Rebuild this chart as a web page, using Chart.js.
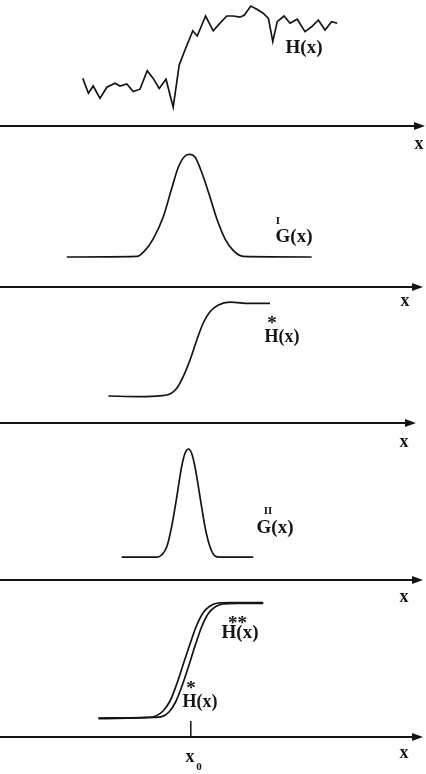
<!DOCTYPE html>
<html>
<head>
<meta charset="utf-8">
<script src="https://cdn.jsdelivr.net/npm/chart.js@4.4.0/dist/chart.umd.min.js"></script>
<style>
  body { margin: 0; background: #fff; }
  #figura { position: relative; width: 426px; height: 774px; overflow: hidden; }
  .panel { position: absolute; left: 0; width: 426px; }
</style>
</head>
<body>
<div id="figura"></div>
<script>
// Datos (x = posición, y = altura sobre el eje)
const h1X = [20.7, 22.1, 23.3, 25, 26.7, 28.75, 30, 31.7, 33.3, 35, 36.8, 38.3, 39.8, 41.5, 43.3, 44.8, 46.25, 48.2, 49.3, 51.4, 53.3, 55, 56.7, 58.3, 60, 61.1, 62.7, 64.2, 65.8, 67.1, 68.2, 69.3, 71, 72.5, 74.3, 76.25, 77.9, 79.6, 81.25, 82.9, 84.3];
const h1Y = [11.9, 8.2, 10, 6.9, 9.7, 10.7, 10, 10.5, 8.6, 9.2, 13.8, 11.9, 9.4, 11.7, 4.7, 15.25, 19, 23.8, 22.5, 27.5, 23.8, 25.7, 27.5, 27.5, 27.2, 27.75, 30, 29.2, 28.2, 26.9, 21.1, 26.1, 27.5, 25.7, 26.7, 23.6, 24.8, 26.5, 24, 26.1, 25.7];

const g1X = [16.7, 34.2, 36.25, 38.3, 40.8, 42.9, 44.6, 46.25, 47.3, 48.75, 50.4, 52.1, 54.2, 56.25, 58.3, 60.8, 77.9];
const g1Y = [7.5, 7.65, 9.15, 12.05, 17.5, 24.55, 30, 32.75, 33.15, 32.5, 28.75, 23.75, 17.05, 12.05, 9.15, 7.65, 7.5];

const hsX = [27.1, 35, 40, 42.5, 44.2, 45.8, 47.5, 49.2, 50.8, 52.5, 54.6, 57.5, 62.5, 67.5];
const hsY = [6.75, 6.6, 6.8, 7.25, 8.7, 11.6, 15.75, 20.75, 25, 27.8, 29.5, 30.2, 29.9, 29.9];

const g2X = [30.4, 39.2, 40.4, 41.7, 42.9, 44.2, 45.4, 46.25, 47.1, 47.9, 48.75, 50, 51.25, 52.5, 53.75, 55, 63.3];
const g2Y = [5.7, 5.7, 6.25, 8.3, 13.3, 20.8, 28.3, 31.7, 32.75, 31.7, 28.3, 20.8, 13.3, 8.3, 6, 5.7, 5.7];

const hssX = [24.6, 37, 39, 40.75, 42.5, 44.1, 45.75, 47.5, 49.1, 50.75, 52.5, 54.5, 58, 65.8];
const hssY = [4.75, 4.9, 5.25, 6.5, 9, 13, 18, 23.25, 27.75, 31, 32.75, 33.5, 33.6, 33.6];
const hs2X = [24.6, 38.5, 40.5, 42.25, 43.9, 45.5, 47.1, 48.75, 50.4, 52, 53.75, 55.75, 59.5, 65.8];
const hs2Y = [4.6, 4.9, 5.1, 6.25, 8.75, 12.75, 17.5, 22.75, 27.5, 30.75, 32.5, 33.25, 33.4, 33.4];

const x0Pos = 47.7;     // posición de x0
const x0Tick = 4;       // altura de la marca de x0

const ink = '#141414';
const serif = '"Liberation Serif", "DejaVu Serif", serif';

function zip(xs, ys) {
    return xs.map((v, i) => ({ x: v, y: ys[i] }));
}

// Paneles de la figura: posición del canvas, rango vertical y etiquetas
const panels = [
    {
        top: 0, height: 160, yMin: -8.5, yMax: 31.5, axisEnd: 106.25,
        curves: [{ data: zip(h1X, h1Y), smooth: false }],
        labels: [
            { text: 'H(x)', x: 76, y: 19.5, size: 19 },
            { text: 'x', x: 104.75, y: -4.5, size: 18 }
        ]
    },
    {
        top: 140, height: 175, yMin: -7, yMax: 36.75, axisEnd: 105.75,
        curves: [{ data: zip(g1X, g1Y), smooth: true }],
        labels: [
            { text: 'G(x)', x: 73.5, y: 12.5, size: 19 },
            { text: 'I', x: 69.5, y: 16.5, size: 11 },
            { text: 'x', x: 101.25, y: -3.5, size: 18 }
        ]
    },
    {
        top: 295, height: 160, yMin: -8, yMax: 32, axisEnd: 104,
        curves: [{ data: zip(hsX, hsY), smooth: true }],
        labels: [
            { text: 'H(x)', x: 70.5, y: 21.5, size: 18 },
            { text: '*', x: 68, y: 24.75, size: 19 },
            { text: 'x', x: 101, y: -4.75, size: 18 }
        ]
    },
    {
        top: 440, height: 170, yMin: -7.5, yMax: 35, axisEnd: 105.75,
        curves: [{ data: zip(g2X, g2Y), smooth: true }],
        labels: [
            { text: 'G(x)', x: 68.75, y: 13, size: 19 },
            { text: 'II', x: 67, y: 17.25, size: 11 },
            { text: 'x', x: 101, y: -4.25, size: 18 }
        ]
    },
    {
        top: 590, height: 184, yMin: -9.25, yMax: 36.75, axisEnd: 105.75,
        curves: [{ data: zip(hssX, hssY), smooth: true }, { data: zip(hs2X, hs2Y), smooth: true }],
        tick: true,
        labels: [
            { text: 'H(x)', x: 60, y: 26, size: 19 },
            { text: '**', x: 59.4, y: 28.25, size: 19 },
            { text: 'H(x)', x: 50, y: 8.75, size: 18 },
            { text: '*', x: 47.75, y: 12, size: 19 },
            { text: 'x', x: 47.5, y: -5, size: 18 },
            { text: '0', x: 49.75, y: -7.6, size: 11 },
            { text: 'x', x: 101, y: -4, size: 18 }
        ]
    }
];

// Plugin para dibujar el eje con flecha, la marca x0 y los textos
function makeFigurePlugin(panel) {
    return {
        id: 'figura',
        afterDatasetsDraw(chart) {
            const { ctx, scales: { x, y } } = chart;
            const y0 = y.getPixelForValue(0);
            const xEnd = x.getPixelForValue(panel.axisEnd);
            ctx.save();
            ctx.strokeStyle = ink;
            ctx.fillStyle = ink;
            ctx.lineWidth = 2;
            ctx.beginPath();
            ctx.moveTo(x.getPixelForValue(0), y0);
            ctx.lineTo(xEnd - 6, y0);
            ctx.stroke();
            ctx.beginPath();
            ctx.moveTo(xEnd, y0);
            ctx.lineTo(xEnd - 11, y0 - 4);
            ctx.lineTo(xEnd - 11, y0 + 4);
            ctx.closePath();
            ctx.fill();
            if (panel.tick) {
                ctx.lineWidth = 1.5;
                ctx.beginPath();
                ctx.moveTo(x.getPixelForValue(x0Pos), y0);
                ctx.lineTo(x.getPixelForValue(x0Pos), y.getPixelForValue(x0Tick));
                ctx.stroke();
            }
            ctx.textAlign = 'center';
            ctx.textBaseline = 'middle';
            panel.labels.forEach(l => {
                ctx.font = 'bold ' + l.size + 'px ' + serif;
                ctx.fillText(l.text, x.getPixelForValue(l.x), y.getPixelForValue(l.y));
            });
            ctx.restore();
        }
    };
}

const figura = document.getElementById('figura');
panels.forEach(panel => {
    const box = document.createElement('div');
    box.className = 'panel';
    box.style.top = panel.top + 'px';
    box.style.height = panel.height + 'px';
    const canvas = document.createElement('canvas');
    box.appendChild(canvas);
    figura.appendChild(box);

    new Chart(canvas.getContext('2d'), {
        type: 'line',
        data: {
            datasets: panel.curves.map(c => ({
                data: c.data,
                borderColor: ink,
                borderWidth: 1.7,
                pointRadius: 0,
                fill: false,
                tension: c.smooth ? 0.4 : 0,
                cubicInterpolationMode: c.smooth ? 'monotone' : 'default',
                clip: false
            }))
        },
        options: {
            responsive: true,
            maintainAspectRatio: false,
            animation: false,
            events: [],
            layout: { padding: 0 },
            plugins: { legend: { display: false }, tooltip: { enabled: false } },
            scales: {
                x: { type: 'linear', display: false, min: 0, max: 106.5 },
                y: { type: 'linear', display: false, min: panel.yMin, max: panel.yMax }
            }
        },
        plugins: [makeFigurePlugin(panel)]
    });
});
</script>
</body>
</html>
